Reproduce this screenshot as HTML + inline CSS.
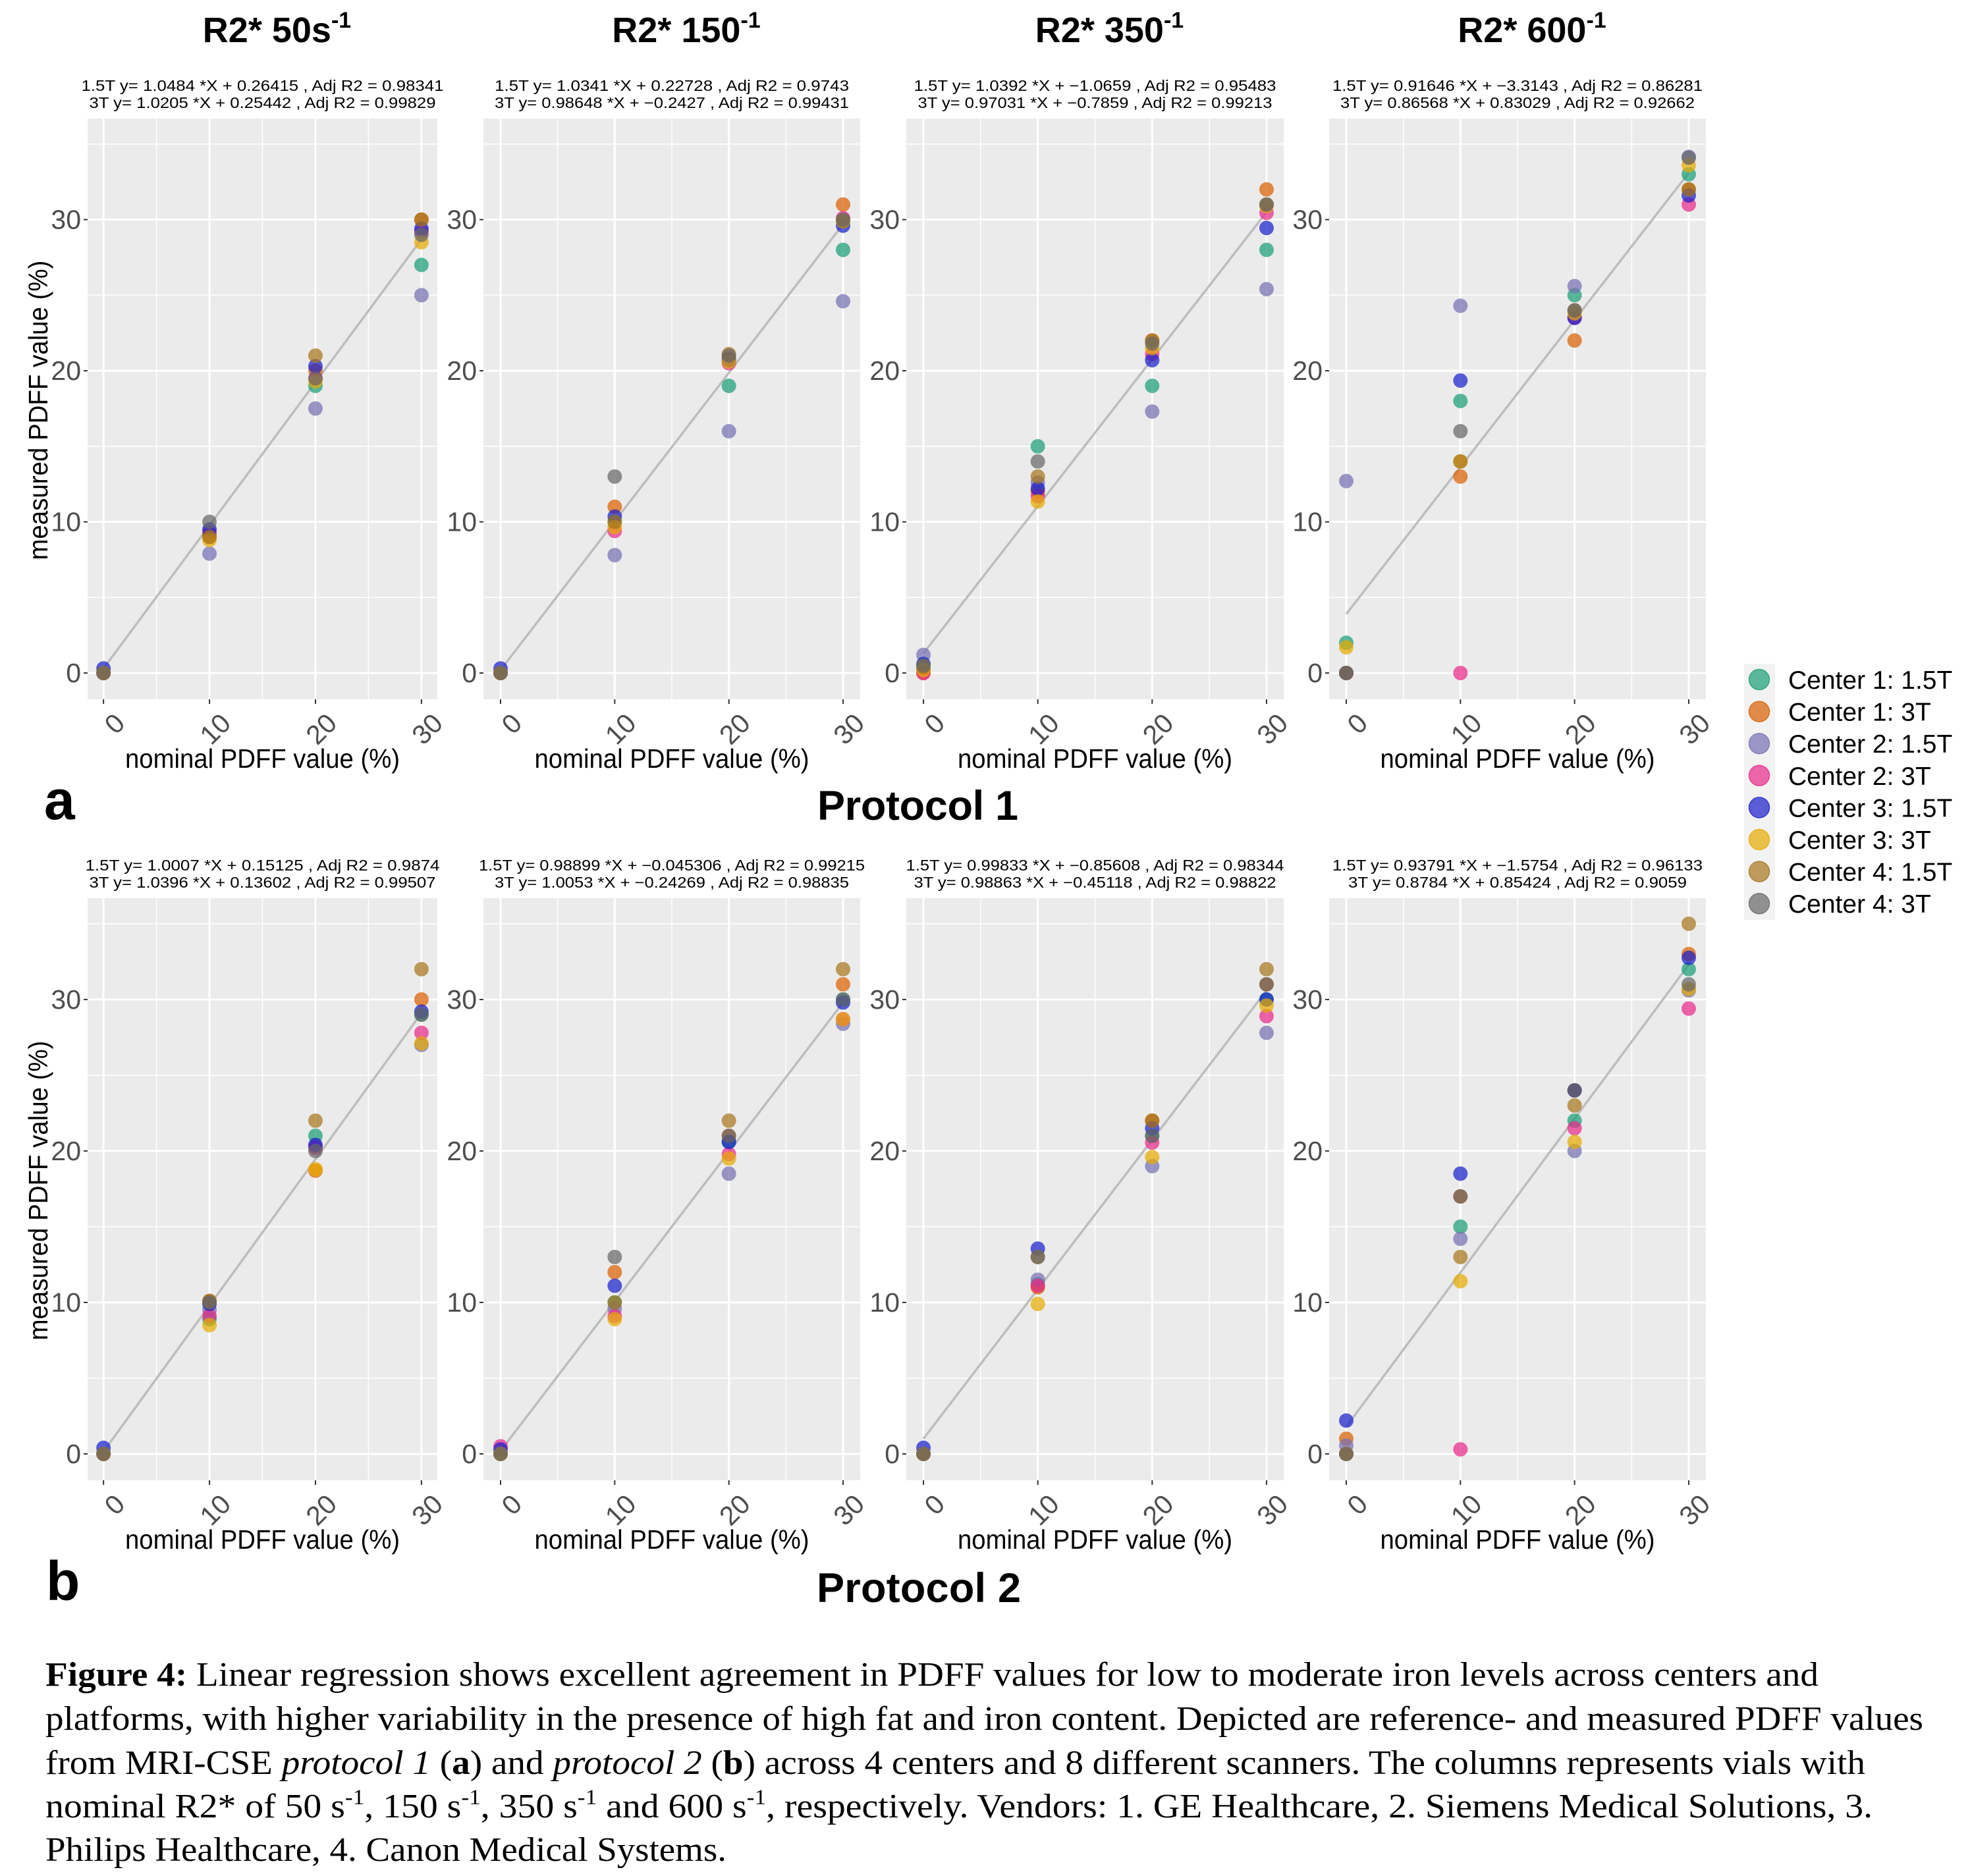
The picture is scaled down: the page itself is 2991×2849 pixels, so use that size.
<!DOCTYPE html>
<html><head><meta charset="utf-8">
<style>
html,body{margin:0;padding:0;background:#fff;}
svg{display:block;}
text{font-family:"Liberation Sans",sans-serif;}
.cap{font-family:"Liberation Serif",serif;font-size:52px;fill:#000;}
</style></head>
<body>
<svg id="fig" width="2991" height="2849" viewBox="0 0 2991 2849" xmlns="http://www.w3.org/2000/svg">
<rect width="2991" height="2849" fill="#fff"/>
<g id="panels"></g>

<text x="67" y="1244" font-size="84" font-weight="bold">a</text>
<text x="1241" y="1245" font-size="63" font-weight="bold" textLength="305">Protocol 1</text>
<text x="70" y="2430" font-size="84" font-weight="bold">b</text>
<text x="1240" y="2433" font-size="63" font-weight="bold" textLength="310">Protocol 2</text>

<g id="legend">
<rect x="2648" y="1008" width="47" height="389" fill="#f2f2f2"/>
</g>

<g>
<text class="cap" x="69" y="2560" textLength="2692" lengthAdjust="spacingAndGlyphs"><tspan font-weight="bold">Figure 4:</tspan> Linear regression shows excellent agreement in PDFF values for low to moderate iron levels across centers and</text>
<text class="cap" x="69" y="2627" textLength="2851" lengthAdjust="spacingAndGlyphs">platforms, with higher variability in the presence of high fat and iron content. Depicted are reference- and measured PDFF values</text>
<text class="cap" x="69" y="2694" textLength="2763" lengthAdjust="spacingAndGlyphs">from MRI-CSE <tspan font-style="italic">protocol 1</tspan> (<tspan font-weight="bold">a</tspan>) and <tspan font-style="italic">protocol 2</tspan> (<tspan font-weight="bold">b</tspan>) across 4 centers and 8 different scanners. The columns represents vials with</text>
<text class="cap" x="69" y="2760" textLength="2774" lengthAdjust="spacingAndGlyphs">nominal R2* of 50 s<tspan dy="-20" font-size="33">-1</tspan><tspan dy="20">, 150 s</tspan><tspan dy="-20" font-size="33">-1</tspan><tspan dy="20">, 350 s</tspan><tspan dy="-20" font-size="33">-1</tspan><tspan dy="20">  and 600 s</tspan><tspan dy="-20" font-size="33">-1</tspan><tspan dy="20">, respectively. Vendors: 1. GE Healthcare, 2. Siemens Medical Solutions, 3.</tspan></text>
<text class="cap" x="69" y="2826" textLength="1034" lengthAdjust="spacingAndGlyphs">Philips Healthcare, 4. Canon Medical Systems.</text>
</g>
</svg>

<script>
// ---- data ----
const xCategories = [0, 10, 20, 30];
const tickLabels = [0, 10, 20, 30];
const seriesNames = ["Center 1: 1.5T","Center 1: 3T","Center 2: 1.5T","Center 2: 3T","Center 3: 1.5T","Center 3: 3T","Center 4: 1.5T","Center 4: 3T"];
const seriesColors = ["#1b9e77","#d95f02","#7570b3","#e7298a","#1920ca","#e6ab02","#a6761d","#666666"];
const panelTitles = ["50s","150","350","600"];

// Protocol 1 (rows: series in seriesNames order; cols: nominal 0,10,20,30)
const P1_R50 = [[0,9.2,19.0,27.0],[0,9.0,20.0,30.0],[0,7.9,17.5,25.0],[0,9.3,19.5,29.2],[0.3,9.5,20.3,29.4],[0,8.8,19.3,28.5],[0,9.0,21.0,30.0],[0,10.0,19.5,29.0]];
const P1_R150 = [[0,10.0,19.0,28.0],[0,11.0,20.8,31.0],[0,7.8,16.0,24.6],[0,9.4,20.5,30.1],[0.3,10.35,20.7,29.6],[0,9.65,20.6,29.9],[0,10.0,21.1,29.9],[0,13.0,21.0,30.0]];
const P1_R350 = [[0.3,15.0,19.0,28.0],[0,12.0,22.0,32.0],[1.2,12.6,17.3,25.4],[0,11.7,21.1,30.45],[0.6,12.2,20.7,29.45],[0.2,11.35,21.5,30.9],[0.4,13.0,22.0,31.0],[0.5,14.0,21.8,31.0]];
const P1_R600 = [[2.0,18.0,25.0,33.0],[0,13.0,22.0,32.0],[12.7,24.3,25.6,34.15],[0,0,23.5,31.0],[0,19.35,23.5,31.6],[1.7,14.0,23.8,33.6],[0,14.0,24.0,32.0],[0,16.0,24.0,34.1]];
// Protocol 2
const P2_R50 = [[0,8.9,21.0,29.0],[0,10.1,18.7,30.0],[0,9.5,20.3,27.0],[0,9.1,20.2,27.8],[0.4,9.9,20.4,29.2],[0,8.5,18.8,27.1],[0,10.1,22.0,32.0],[0,10.0,20.0,29.0]];
const P2_R150 = [[0,10.0,20.6,30.0],[0,12.0,21.0,31.0],[0,9.6,18.5,28.4],[0.5,9.1,19.8,28.7],[0.3,11.1,20.6,29.8],[0,8.9,19.5,28.7],[0,10.0,22.0,32.0],[0,13.0,21.0,30.0]];
const P2_R350 = [[0,11.2,21.0,30.0],[0,11.0,22.0,31.0],[0,11.5,19.0,27.8],[0,11.1,20.55,28.9],[0.4,13.55,21.5,30.0],[0,9.9,19.6,29.6],[0,13.0,22.0,32.0],[0,13.0,21.0,31.0]];
const P2_R600 = [[0,15.0,22.0,32.0],[1.0,17.0,24.0,33.0],[0.55,14.2,20.0,30.6],[0,0.3,21.5,29.4],[2.2,18.5,24.0,32.75],[0,11.4,20.6,30.7],[0,13.0,23.0,35.0],[0,17.0,24.0,31.0]];
// fitted line values at nominal 0 and 30
const fitP1 = [[0.3,28.7],[0.2,29.7],[1.3,30.5],[3.9,33.1]];
const fitP2 = [[0.15,29.1],[0.2,29.8],[1.0,30.6],[1.8,32.3]];
const eqP1 = [
 ["1.5T y= 1.0484 *X + 0.26415 , Adj R2 = 0.98341","3T y= 1.0205 *X + 0.25442 , Adj R2 = 0.99829"],
 ["1.5T y= 1.0341 *X + 0.22728 , Adj R2 = 0.9743","3T y= 0.98648 *X + \u22120.2427 , Adj R2 = 0.99431"],
 ["1.5T y= 1.0392 *X + \u22121.0659 , Adj R2 = 0.95483","3T y= 0.97031 *X + \u22120.7859 , Adj R2 = 0.99213"],
 ["1.5T y= 0.91646 *X + \u22123.3143 , Adj R2 = 0.86281","3T y= 0.86568 *X + 0.83029 , Adj R2 = 0.92662"]];
const eqP2 = [
 ["1.5T y= 1.0007 *X + 0.15125 , Adj R2 = 0.9874","3T y= 1.0396 *X + 0.13602 , Adj R2 = 0.99507"],
 ["1.5T y= 0.98899 *X + \u22120.045306 , Adj R2 = 0.99215","3T y= 1.0053 *X + \u22120.24269 , Adj R2 = 0.98835"],
 ["1.5T y= 0.99833 *X + \u22120.85608 , Adj R2 = 0.98344","3T y= 0.98863 *X + \u22120.45118 , Adj R2 = 0.98822"],
 ["1.5T y= 0.93791 *X + \u22121.5754 , Adj R2 = 0.96133","3T y= 0.8784 *X + 0.85424 , Adj R2 = 0.9059"]];

const NS = "http://www.w3.org/2000/svg";
const colsX = [[133,664],[734,1306],[1376,1949],[2018,2590]];
const rowsY = [[180,1062],[1364,2248]];
const XMIN = -1.5, XMAX = 31.5, YMIN = -1.74, YMAX = 36.69;

function mk(tag, attrs, parent) {
  const e = document.createElementNS(NS, tag);
  for (const k in attrs) e.setAttribute(k, attrs[k]);
  parent.appendChild(e);
  return e;
}

const root = document.getElementById("panels");
const data = [[P1_R50,P1_R150,P1_R350,P1_R600],[P2_R50,P2_R150,P2_R350,P2_R600]];
const fits = [fitP1, fitP2];
const eqs = [eqP1, eqP2];

for (let r = 0; r < 2; r++) {
  for (let c = 0; c < 4; c++) {
    const [L, R] = colsX[c], [T, B] = rowsY[r];
    const sx = v => L + (v - XMIN) / (XMAX - XMIN) * (R - L);
    const sy = v => B - (v - YMIN) / (YMAX - YMIN) * (B - T);
    const g = mk("g", {}, root);
    
    

    const bg = mk("rect", {x:L, y:T, width:R-L, height:B-T, fill:"#ebebeb"}, g);
    
    
    [5,15,25].forEach(v => {
      const gl = mk("line", {x1:sx(v), x2:sx(v), y1:T, y2:B, stroke:"#fff", "stroke-width":1.5}, g);
      
      
    });
    [5,15,25,35].forEach(v => {
      const gl = mk("line", {x1:L, x2:R, y1:sy(v), y2:sy(v), stroke:"#fff", "stroke-width":1.5}, g);
      
      
    });
    tickLabels.forEach(v => {
      const gx = mk("line", {x1:sx(v), x2:sx(v), y1:T, y2:B, stroke:"#fff", "stroke-width":3}, g);
      
      
      const gy = mk("line", {x1:L, x2:R, y1:sy(v), y2:sy(v), stroke:"#fff", "stroke-width":3}, g);
      
      
      const ty = mk("line", {x1:L-6, x2:L, y1:sy(v), y2:sy(v), stroke:"#333", "stroke-width":2}, g);
      
      
      const yl = mk("text", {x:L-10, y:sy(v)+14, "text-anchor":"end", "font-size":41, fill:"#4d4d4d"}, g);
      yl.textContent = String(v);
      
      
      const tx = mk("line", {x1:sx(v), x2:sx(v), y1:B, y2:B+7, stroke:"#333", "stroke-width":2}, g);
      
      
      const xl = mk("text", {transform:"translate(" + (sx(v)+14) + "," + (B+18) + ") rotate(-45)", "text-anchor":"end", dy:"0.72em", "font-size":41, fill:"#4d4d4d"}, g);
      xl.textContent = String(v);
      
      
    });

    const f = fits[r][c];
    const fl = mk("line", {x1:sx(xCategories[0]), y1:sy(f[0]), x2:sx(xCategories[3]), y2:sy(f[1]), stroke:"#bdbdbd", "stroke-width":3.5}, g);
    
    

    const d = data[r][c];
    d.forEach((vals, si) => {
      vals.forEach((v, xi) => {
        const p = mk("circle", {cx:sx(xCategories[xi]), cy:sy(v), r:11, fill:seriesColors[si], "fill-opacity":0.72}, g);
        
        
      });
    });

    const cx = (L + R) / 2;
    const e = eqs[r][c];
    const ybase = r === 0 ? [138, 164] : [1322, 1348];
    e.forEach((s, i) => {
      const t = mk("text", {x:cx, y:ybase[i], "text-anchor":"middle", "font-size":23, fill:"#000", textLength:Math.round(s.length*11.95), lengthAdjust:"spacingAndGlyphs"}, g);
      t.textContent = s;
      
      
    });

    const xt = mk("text", {x:cx, y:B+104, "text-anchor":"middle", "font-size":41, fill:"#000", textLength:417, lengthAdjust:"spacingAndGlyphs"}, g);
    xt.textContent = "nominal PDFF value (%)";
    
    

    if (c === 0) {
      const ymid = (T + B) / 2 + 2;
      const yt = mk("text", {transform:"translate(72," + ymid + ") rotate(-90)", "text-anchor":"middle", "font-size":41, fill:"#000", textLength:455, lengthAdjust:"spacingAndGlyphs"}, g);
      yt.textContent = "measured PDFF value (%)";
      
      
    }

    if (r === 0) {
      const tt = mk("text", {x:cx+22, y:64, "text-anchor":"middle", "font-size":54, "font-weight":"bold", fill:"#000"}, g);
      const t1 = mk("tspan", {}, tt);
      t1.textContent = "R2* " + panelTitles[c];
      const t2 = mk("tspan", {dy:-22, "font-size":34}, tt);
      t2.textContent = "-1";
      
      
    }
  }
}

const lg = document.getElementById("legend");
seriesNames.forEach((n, i) => {
  const cy = 1032 + i * 48.6;
  const k = mk("circle", {cx:2671, cy:cy, r:15.5, fill:seriesColors[i], "fill-opacity":0.7, stroke:seriesColors[i], "stroke-opacity":0.8, "stroke-width":1.5}, lg);
  
  
  const t = mk("text", {x:2715, y:cy+14, "font-size":39, fill:"#000"}, lg);
  t.textContent = n;
  
  
});
</script>
</body></html>
